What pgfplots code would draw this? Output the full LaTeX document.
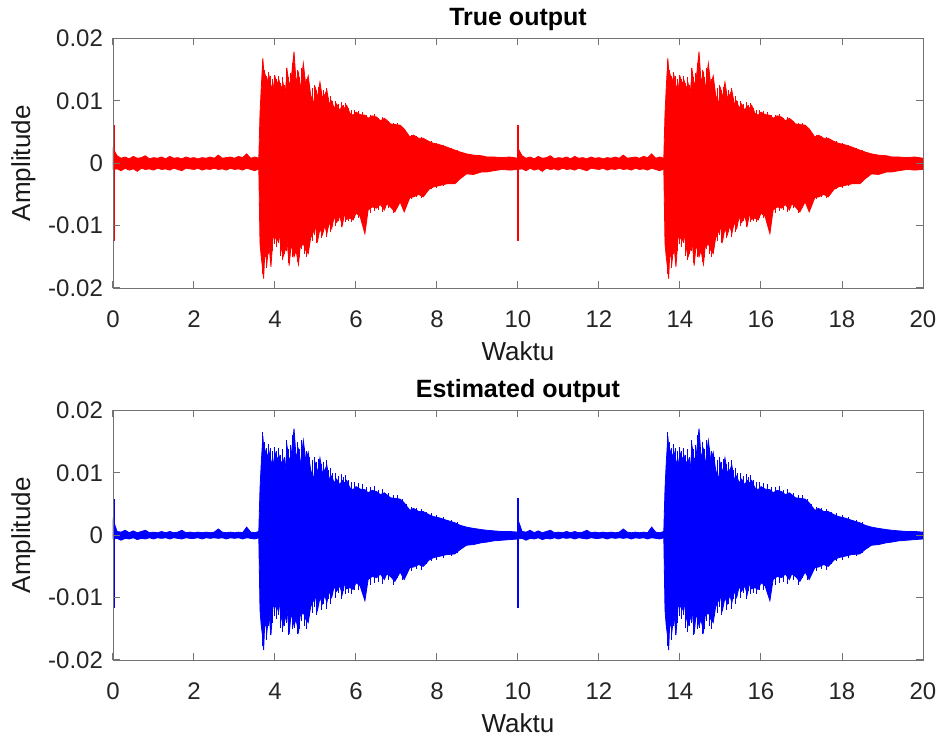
\documentclass[border=0pt]{standalone}
\usepackage{fontspec}
\setmainfont{Liberation Sans}
\usepackage{pgfplots}
\usepackage{pgfplotstable}
\pgfplotsset{compat=1.18}
\pgfplotstableread{
x ru rl bu bl
0.00 0.0024 -0.0010 0.0025 -0.0006
0.10 0.0012 -0.0009 0.0006 -0.0005
0.20 0.0008 -0.0012 0.0005 -0.0008
0.30 0.0010 -0.0008 0.0008 -0.0005
0.40 0.0007 -0.0011 0.0004 -0.0006
0.50 0.0011 -0.0009 0.0007 -0.0004
0.60 0.0008 -0.0013 0.0004 -0.0007
0.70 0.0009 -0.0008 0.0006 -0.0005
0.80 0.0012 -0.0010 0.0008 -0.0006
0.90 0.0007 -0.0009 0.0004 -0.0004
1.00 0.0009 -0.0011 0.0005 -0.0006
1.10 0.0008 -0.0008 0.0004 -0.0004
1.20 0.0010 -0.0010 0.0006 -0.0005
1.30 0.0007 -0.0009 0.0004 -0.0004
1.40 0.0011 -0.0011 0.0006 -0.0006
1.50 0.0008 -0.0008 0.0004 -0.0004
1.60 0.0009 -0.0010 0.0005 -0.0005
1.70 0.0007 -0.0012 0.0008 -0.0006
1.80 0.0010 -0.0008 0.0004 -0.0004
1.90 0.0008 -0.0009 0.0005 -0.0005
2.00 0.0009 -0.0010 0.0004 -0.0005
2.10 0.0007 -0.0008 0.0005 -0.0004
2.20 0.0009 -0.0011 0.0004 -0.0006
2.30 0.0008 -0.0009 0.0005 -0.0004
2.40 0.0010 -0.0010 0.0004 -0.0005
2.50 0.0008 -0.0008 0.0005 -0.0004
2.60 0.0013 -0.0010 0.0010 -0.0005
2.70 0.0008 -0.0009 0.0005 -0.0004
2.80 0.0009 -0.0011 0.0004 -0.0006
2.90 0.0010 -0.0008 0.0005 -0.0004
3.00 0.0008 -0.0010 0.0004 -0.0005
3.10 0.0011 -0.0009 0.0005 -0.0004
3.20 0.0009 -0.0011 0.0004 -0.0006
3.30 0.0015 -0.0008 0.0013 -0.0004
3.40 0.0008 -0.0010 0.0005 -0.0005
3.50 0.0010 -0.0012 0.0004 -0.0006
3.60 0.0008 -0.0009 0.0006 -0.0004
3.63 0.0080 -0.0129 0.0075 -0.0120
3.66 0.0120 -0.0150 0.0115 -0.0145
3.70 0.0168 -0.0172 0.0159 -0.0165
3.72 0.0150 -0.0185 0.0142 -0.0184
3.75 0.0144 -0.0140 0.0138 -0.0135
3.80 0.0130 -0.0160 0.0125 -0.0155
3.85 0.0141 -0.0130 0.0135 -0.0125
3.90 0.0125 -0.0166 0.0120 -0.0160
3.95 0.0117 -0.0120 0.0110 -0.0115
4.00 0.0139 -0.0118 0.0133 -0.0112
4.05 0.0128 -0.0125 0.0122 -0.0120
4.10 0.0133 -0.0113 0.0128 -0.0108
4.15 0.0120 -0.0135 0.0115 -0.0130
4.20 0.0128 -0.0150 0.0122 -0.0145
4.25 0.0110 -0.0140 0.0105 -0.0135
4.30 0.0149 -0.0125 0.0142 -0.0120
4.35 0.0125 -0.0164 0.0120 -0.0158
4.40 0.0135 -0.0130 0.0128 -0.0125
4.47 0.0179 -0.0150 0.0171 -0.0145
4.52 0.0130 -0.0140 0.0125 -0.0135
4.58 0.0145 -0.0162 0.0138 -0.0155
4.62 0.0117 -0.0135 0.0112 -0.0130
4.70 0.0160 -0.0129 0.0152 -0.0124
4.76 0.0125 -0.0140 0.0120 -0.0135
4.82 0.0140 -0.0145 0.0133 -0.0140
4.88 0.0110 -0.0120 0.0105 -0.0115
4.95 0.0095 -0.0110 0.0090 -0.0105
5.00 0.0120 -0.0102 0.0115 -0.0098
5.05 0.0105 -0.0125 0.0100 -0.0120
5.11 0.0130 -0.0105 0.0124 -0.0100
5.17 0.0105 -0.0115 0.0100 -0.0110
5.23 0.0110 -0.0100 0.0105 -0.0096
5.28 0.0117 -0.0113 0.0112 -0.0108
5.34 0.0095 -0.0095 0.0090 -0.0090
5.40 0.0100 -0.0105 0.0095 -0.0100
5.46 0.0088 -0.0086 0.0084 -0.0082
5.52 0.0095 -0.0095 0.0090 -0.0090
5.60 0.0085 -0.0085 0.0081 -0.0081
5.66 0.0092 -0.0100 0.0088 -0.0095
5.72 0.0088 -0.0081 0.0084 -0.0077
5.77 0.0093 -0.0090 0.0088 -0.0086
5.85 0.0080 -0.0088 0.0076 -0.0084
5.93 0.0077 -0.0091 0.0073 -0.0087
6.00 0.0082 -0.0080 0.0078 -0.0076
6.10 0.0078 -0.0085 0.0074 -0.0081
6.22 0.0077 -0.0113 0.0073 -0.0105
6.30 0.0072 -0.0075 0.0068 -0.0071
6.40 0.0076 -0.0070 0.0072 -0.0066
6.51 0.0074 -0.0072 0.0070 -0.0068
6.60 0.0068 -0.0066 0.0065 -0.0062
6.70 0.0072 -0.0075 0.0068 -0.0071
6.76 0.0069 -0.0065 0.0065 -0.0062
6.85 0.0063 -0.0070 0.0060 -0.0066
6.96 0.0062 -0.0078 0.0059 -0.0074
7.09 0.0061 -0.0062 0.0058 -0.0059
7.19 0.0055 -0.0078 0.0052 -0.0071
7.33 0.0042 -0.0055 0.0040 -0.0052
7.42 0.0045 -0.0054 0.0043 -0.0051
7.55 0.0040 -0.0050 0.0038 -0.0047
7.66 0.0040 -0.0054 0.0038 -0.0050
7.80 0.0035 -0.0042 0.0033 -0.0040
7.91 0.0032 -0.0038 0.0030 -0.0036
8.05 0.0030 -0.0036 0.0028 -0.0034
8.24 0.0026 -0.0033 0.0024 -0.0031
8.44 0.0021 -0.0033 0.0020 -0.0030
8.57 0.0018 -0.0025 0.0016 -0.0023
8.73 0.0015 -0.0017 0.0013 -0.0016
8.90 0.0013 -0.0018 0.0011 -0.0015
9.10 0.0012 -0.0014 0.0009 -0.0012
9.23 0.0010 -0.0014 0.0008 -0.0011
9.40 0.0010 -0.0012 0.0007 -0.0009
9.60 0.0009 -0.0010 0.0006 -0.0008
9.80 0.0010 -0.0011 0.0006 -0.0007
10.00 0.0008 -0.0010 0.0005 -0.0006
}\env
\pgfplotstableread{
x up lo
3.68 0.0165 -0.0178
3.74 0.0150 -0.0150
3.78 0.0140 -0.0168
3.83 0.0146 -0.0145
3.88 0.0140 -0.0160
3.93 0.0135 -0.0140
3.98 0.0142 -0.0130
4.03 0.0135 -0.0135
4.08 0.0140 -0.0128
4.13 0.0128 -0.0148
4.18 0.0138 -0.0155
4.23 0.0125 -0.0145
4.28 0.0152 -0.0140
4.33 0.0138 -0.0160
4.38 0.0145 -0.0138
4.43 0.0160 -0.0150
4.49 0.0150 -0.0148
4.55 0.0150 -0.0158
4.60 0.0138 -0.0150
4.66 0.0152 -0.0138
4.73 0.0140 -0.0145
4.79 0.0135 -0.0150
4.85 0.0125 -0.0130
4.92 0.0120 -0.0125
4.98 0.0125 -0.0115
5.03 0.0118 -0.0128
5.08 0.0122 -0.0112
5.14 0.0115 -0.0120
5.20 0.0118 -0.0110
5.26 0.0120 -0.0118
5.31 0.0105 -0.0102
5.37 0.0108 -0.0110
5.43 0.0100 -0.0095
5.50 0.0100 -0.0100
5.57 0.0095 -0.0092
5.63 0.0098 -0.0102
5.70 0.0094 -0.0090
5.75 0.0096 -0.0095
5.82 0.0088 -0.0092
5.90 0.0085 -0.0095
5.97 0.0086 -0.0088
6.05 0.0084 -0.0088
6.15 0.0082 -0.0095
6.26 0.0078 -0.0085
6.35 0.0078 -0.0080
6.45 0.0079 -0.0076
6.56 0.0072 -0.0075
6.65 0.0074 -0.0078
6.80 0.0068 -0.0072
6.92 0.0065 -0.0080
7.02 0.0064 -0.0068
7.14 0.0058 -0.0072
7.25 0.0050 -0.0062
7.38 0.0046 -0.0058
7.50 0.0044 -0.0054
7.62 0.0042 -0.0056
7.75 0.0038 -0.0046
7.87 0.0035 -0.0042
8.00 0.0032 -0.0040
8.15 0.0029 -0.0036
8.35 0.0024 -0.0034
8.50 0.0021 -0.0029
}\spikes
\pgfplotstableread{
x ry by
0.04 0.0062 0.0058
0.04 -0.0125 -0.0116
10.00 0.0062 0.0060
10.00 -0.0125 -0.0116
}\impulse
\pgfplotsset{
  myaxis/.style={
    scale only axis, width=405pt, height=124.75pt,
    xmin=0, xmax=20, ymin=-0.02, ymax=0.02,
    xtick={0,2,4,6,8,10,12,14,16,18,20}, xticklabels={0,2,4,6,8,10,12,14,16,18,20},
    ytick={-0.02,-0.01,0,0.01,0.02}, yticklabels={-0.02,-0.01,0,0.01,0.02},
    scaled y ticks=false,
    tick align=inside, major tick length=3.5pt,
    axis line style={draw=black!55},
    major tick style={draw=black!55, line width=0.5pt},
    tick label style={font=\fontsize{12}{14}\selectfont, text=black!85},
    xticklabel style={yshift=-8pt},
    yticklabel style={xshift=-1.5pt},
    label style={font=\fontsize{13}{15}\selectfont, text=black!90},
    title style={font=\fontsize{12.5}{14}\selectfont\bfseries, yshift=-5.5pt},
    xlabel={Waktu}, ylabel={Amplitude},
    xlabel style={yshift=0pt}, ylabel style={yshift=-0.5pt},
    axis on top,
  }
}
\begin{document}
\begin{tikzpicture}
\path[use as bounding box] (0,0) rectangle (469.5pt,368.5pt);
\begin{axis}[myaxis, at={(56.5pt,224.5pt)}, anchor=south west, title={True output}]
\addplot[fill=red, draw=red, line width=0.4pt] table[x=x, y=ru]{\env} \closedcycle;
\addplot[fill=red, draw=red, line width=0.4pt] table[x=x, y=rl]{\env} \closedcycle;
\addplot[fill=red, draw=red, line width=0.4pt] table[x expr=\thisrow{x}+10, y=ru]{\env} \closedcycle;
\addplot[fill=red, draw=red, line width=0.4pt] table[x expr=\thisrow{x}+10, y=rl]{\env} \closedcycle;
\addplot[ycomb, color=red, no marks, line width=0.5pt] table[x=x, y=up]{\spikes};
\addplot[ycomb, color=red, no marks, line width=0.5pt] table[x=x, y=lo]{\spikes};
\addplot[ycomb, color=red, no marks, line width=0.5pt] table[x expr=\thisrow{x}+10, y=up]{\spikes};
\addplot[ycomb, color=red, no marks, line width=0.5pt] table[x expr=\thisrow{x}+10, y=lo]{\spikes};
\addplot[ycomb, color=red, no marks, line width=0.6pt] table[x=x, y=ry]{\impulse};
\end{axis}
\begin{axis}[myaxis, at={(56.5pt,38.5pt)}, anchor=south west, title={Estimated output}]
\addplot[fill=blue, draw=blue, line width=0.4pt] table[x=x, y=bu]{\env} \closedcycle;
\addplot[fill=blue, draw=blue, line width=0.4pt] table[x=x, y=bl]{\env} \closedcycle;
\addplot[fill=blue, draw=blue, line width=0.4pt] table[x expr=\thisrow{x}+10, y=bu]{\env} \closedcycle;
\addplot[fill=blue, draw=blue, line width=0.4pt] table[x expr=\thisrow{x}+10, y=bl]{\env} \closedcycle;
\addplot[ycomb, color=blue, no marks, line width=0.5pt] table[x=x, y=up]{\spikes};
\addplot[ycomb, color=blue, no marks, line width=0.5pt] table[x=x, y=lo]{\spikes};
\addplot[ycomb, color=blue, no marks, line width=0.5pt] table[x expr=\thisrow{x}+10, y=up]{\spikes};
\addplot[ycomb, color=blue, no marks, line width=0.5pt] table[x expr=\thisrow{x}+10, y=lo]{\spikes};
\addplot[ycomb, color=blue, no marks, line width=0.6pt] table[x=x, y=by]{\impulse};
\end{axis}
\end{tikzpicture}
\end{document}
